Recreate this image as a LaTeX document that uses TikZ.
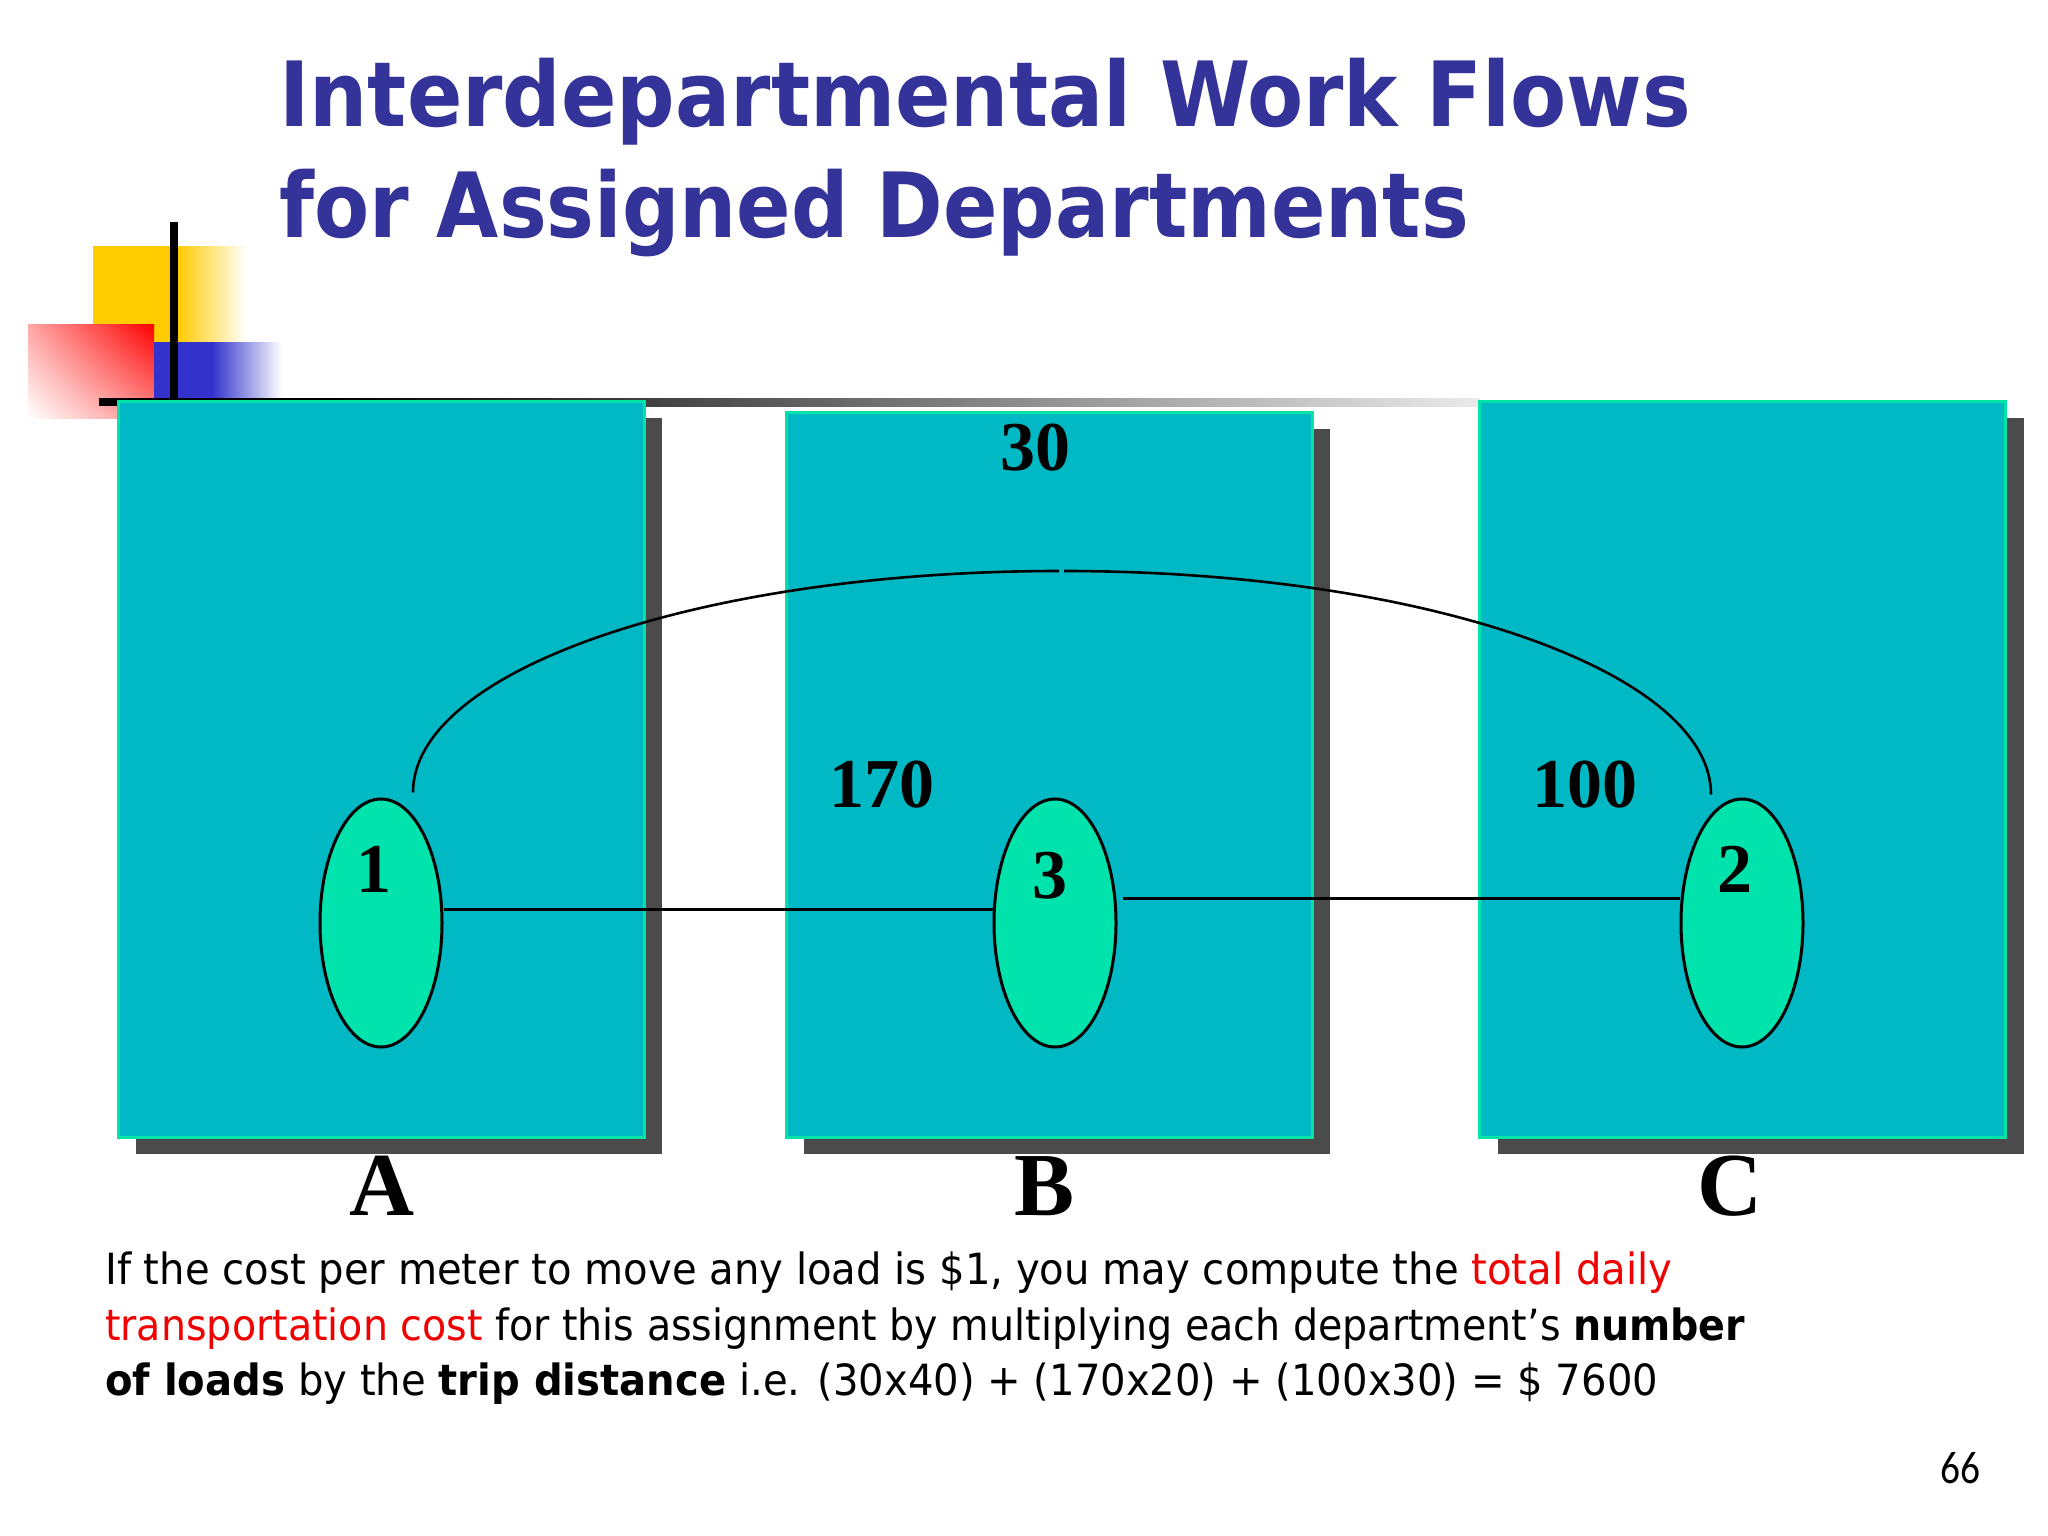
\documentclass[tikz,border=0pt]{standalone}
\usepackage{fontspec}
\usepackage{graphicx}
\setmainfont{Liberation Serif}
\newfontfamily\tahomafont{DejaVu Sans}
\newfontfamily\pagenumfont{Carlito}
\usetikzlibrary{shapes.geometric,shadows,shadings}
\definecolor{boxfill}{RGB}{0,185,196}
\definecolor{boxborder}{RGB}{0,228,168}
\definecolor{ellfill}{RGB}{0,227,172}
\definecolor{shadowc}{RGB}{75,75,75}
\definecolor{titleblue}{RGB}{51,51,153}
\definecolor{logoyellow}{RGB}{255,204,0}
\definecolor{logored}{RGB}{255,0,0}
\definecolor{logoblue}{RGB}{51,51,204}
\definecolor{textred}{RGB}{240,0,0}
\newcommand\mybody{\tahomafont\fontsize{43}{52}\selectfont}
\begin{document}
\begin{tikzpicture}[x=1pt,y=-1pt,
  dept/.style={rectangle, draw=boxborder, line width=3pt, fill=boxfill, inner sep=0pt,
    minimum width=526pt,
    general shadow={shadow xshift=18pt, shadow yshift=-17pt, fill=shadowc, draw=none}},
  flowell/.style={ellipse, draw=black, line width=3pt, fill=ellfill, inner sep=0pt,
    minimum width=122pt, minimum height=248pt},
  conn/.style={draw=black, line width=3pt},
  curvec/.style={draw=black, line width=2.6pt},
  numlab/.style={anchor=base west, inner sep=0pt, font=\bfseries\fontsize{70}{80}\selectfont},
  innum/.style={anchor=base, inner sep=0pt, font=\bfseries\fontsize{70}{80}\selectfont},
  deptlab/.style={anchor=base, inner sep=0pt, font=\bfseries\fontsize{90}{100}\selectfont},
  plain/.style={anchor=base west, inner sep=0pt}]
\useasboundingbox (0,0) rectangle (2048,1536);
\fill[white] (0,0) rectangle (2048,1536);

% logo
\fill[logoyellow] (93,246) rectangle (178,342);
\shade[left color=logoyellow, right color=white] (178,246) rectangle (246,342);
\shade[upper left=logored!35, upper right=logored, lower left=white, lower right=logored!45] (28,324) rectangle (154,418);
\fill[logoblue] (154,342) rectangle (212,401);
\shade[left color=logoblue, right color=white] (212,342) rectangle (282,401);
\fill[black] (99,398) rectangle (330,406);
\shade[left color=black, right color=black!8] (330,398) rectangle (1480,406);
\fill[black] (170,222) rectangle (178,402);

% departments
\node[dept, minimum height=736pt] (boxA) at (381,769) {};
\node[dept, minimum height=725pt] (boxB) at (1049,774.5) {};
\node[dept, minimum height=736pt] (boxC) at (1742.5,769) {};

% flows
\node[flowell] (e1) at (381,923) {};
\node[flowell] (e3) at (1055,923) {};
\node[flowell] (e2) at (1742,923) {};

\draw[conn] ([yshift=14pt]e1.east) -- ([yshift=14pt]e3.west);
\draw[conn] ([xshift=5pt,yshift=25pt]e3.east) -- ([yshift=25pt]e2.west);

\coordinate (cs) at ([xshift=32pt,yshift=5pt]e1.north);
\coordinate (ce) at ([xshift=-31pt,yshift=3pt]e2.north);
\coordinate (apexL) at (1059,571);
\coordinate (apexR) at (1064,571);
\draw[curvec] (cs) .. controls +(0,-123) and +(-357,0) .. (apexL);
\draw[curvec] (apexR) .. controls +(357,0) and +(0,-124) .. (ce);

\node[innum] (n1) at (374,892) {1};
\node[innum] (n3) at (1050,898) {3};
\node[innum] (n2) at (1735,892) {2};

\node[numlab] (l30) at (1000,470) {30};
\node[numlab] (l170) at (829,807) {170};
\node[numlab] (l100) at (1532,807) {100};

\node[deptlab] (lA) at (382,1215) {A};
\node[deptlab] (lB) at (1045,1215) {B};
\node[deptlab] (lC) at (1730,1215) {C};

% title
\node[plain, text=titleblue] (title1) at (279,127)
  {\tahomafont\bfseries\fontsize{90}{100}\selectfont\resizebox{1412pt}{\height}{Interdepartmental Work Flows}};
\node[plain, text=titleblue] (title2) at (279,237)
  {\tahomafont\bfseries\fontsize{90}{100}\selectfont\resizebox{1190pt}{\height}{for Assigned Departments}};

% body text
\node[plain] (t1) at (105,1284)
  {\mybody\resizebox{1567pt}{\height}{If the cost per meter to move any load is \$1, you may compute the \textcolor{textred}{total daily}}};
\node[plain] (t2) at (105,1340)
  {\mybody\resizebox{1640pt}{\height}{\textcolor{textred}{transportation cost} for this assignment by multiplying each department’s \textbf{number}}};
\node[plain] (t3) at (105,1395)
  {\mybody\resizebox{1553pt}{\height}{\textbf{of loads} by the \textbf{trip distance} i.e. (30x40) + (170x20) + (100x30) = \$ 7600}};

\node[anchor=base east, inner sep=0pt] (pg) at (1981,1483)
  {\pagenumfont\fontsize{46}{50}\selectfont\resizebox{40pt}{\height}{66}};
\end{tikzpicture}
\end{document}
